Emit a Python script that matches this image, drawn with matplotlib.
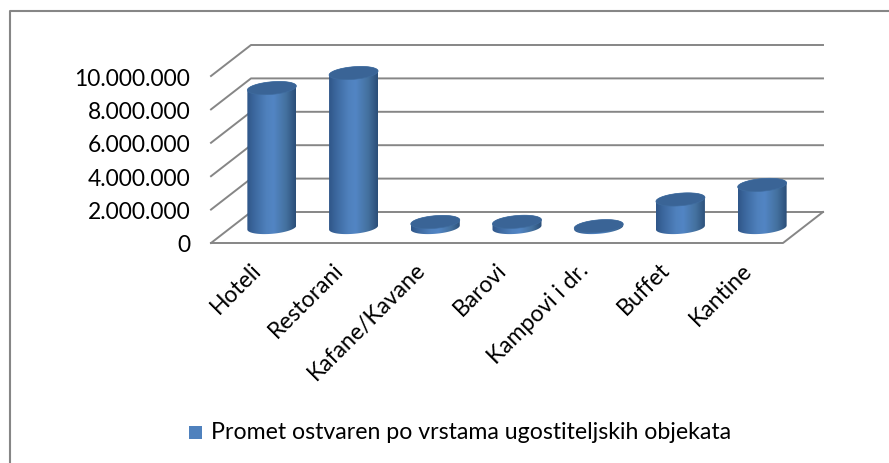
import numpy as np
import matplotlib
matplotlib.use('Agg')
import matplotlib.pyplot as plt
from matplotlib.patches import Polygon, Rectangle
from matplotlib.lines import Line2D
from matplotlib.colors import LinearSegmentedColormap
from matplotlib.transforms import ScaledTranslation

categories = ['Hoteli', 'Restorani', 'Kafane/Kavane', 'Barovi', 'Kampovi i dr.', 'Buffet', 'Kantine']
values = [8350000, 9250000, 330000, 340000, 80000, 1680000, 2550000]
yticks = [0, 2000000, 4000000, 6000000, 8000000, 10000000]
ytick_labels = ['0', '2.000.000', '4.000.000', '6.000.000', '8.000.000', '10.000.000']
legend_label = 'Promet ostvaren po vrstama ugostiteljskih objekata'

W, H = 889, 464
plt.rcParams['font.family'] = ['Lato', 'DejaVu Sans']

fig = plt.figure(figsize=(W / 100, H / 100), dpi=100)
# front plane of the fake 3d box, pixels 211-783 and 244-77
ax = fig.add_axes([211 / W, 1 - 244 / H, 572 / W, 167 / H])
ax.patch.set_visible(False)
for s in ax.spines.values():
    s.set_visible(False)

px_x = 7 / 572          # data units per pixel
px_y = 10000000 / 167
depth_x = 40 * px_x
depth_y = 31 * px_y

grid = '#868686'
for t in yticks:
    # wall lines, back wall and left side
    ax.plot([0, depth_x, 7 + depth_x], [t, t + depth_y, t + depth_y], color=grid, lw=1.4, clip_on=False, zorder=1)
# floor
ax.plot([0, 7, 7 + depth_x], [0, 0, depth_y], color=grid, lw=1.4, clip_on=False, zorder=1)

body_cmap = LinearSegmentedColormap.from_list('body', [
    (0, '#2f5688'), (0.12, '#3a659b'), (0.4, '#4f81bd'), (0.55, '#5285c4'),
    (0.8, '#44719f'), (1, '#2b4e78')])
gradient = np.linspace(0, 1, 128).reshape(1, -1)

t_low = np.linspace(np.pi, 2 * np.pi, 60)
t_up = np.linspace(0, np.pi, 60)
a, b, k = 24.5, 6.3, 2.0   # ellipse size in pixels

def ring(cx, base, t):
    return np.column_stack([cx + a * px_x * np.cos(t),
                            base + (b * np.sin(t) + k * np.cos(t)) * px_y])

for i, v in enumerate(values):
    cx = i + 0.5 + depth_x / 2
    base = depth_y / 2
    pts = np.vstack([ring(cx, base, t_low), ring(cx, base + v, t_up)])
    body = Polygon(pts, closed=True, fc='none', ec='none', clip_on=False)
    ax.add_patch(body)
    im = ax.imshow(gradient, cmap=body_cmap, aspect='auto', zorder=3,
                   extent=[cx - a * px_x, cx + a * px_x, base - 10 * px_y, base + v + 10 * px_y])
    # image must be able to leave the axes box, the tallest bar goes over it
    im.set_clip_box(fig.bbox)
    im.set_clip_path(body)
    top = Polygon(ring(cx, base + v, np.linspace(0, 2 * np.pi, 120)), closed=True,
                  fc='#3a6496', ec='#3f6c9f', lw=0.5, zorder=4, clip_on=False)
    ax.add_patch(top)

ax.set_xlim(0, 7)
ax.set_ylim(0, 10000000)
ax.set_yticks(yticks)
ax.set_yticklabels(ytick_labels, fontsize=16.4, color='black')
ax.set_xticks(np.arange(7) + 0.5)
ax.set_xticklabels(categories, fontsize=16.5, rotation=45, ha='right', rotation_mode='anchor')
ax.tick_params(axis='both', length=0)
ax.tick_params(axis='y', pad=15)
ax.tick_params(axis='x', pad=11)
shift = ScaledTranslation(-1 / 100, 0, fig.dpi_scale_trans)
for lab in ax.get_xticklabels():
    lab.set_transform(lab.get_transform() + shift)

# chart frame, only top and left are inside the image
fig.add_artist(Line2D([10 / W, 10 / W, 1], [0, 1 - 12 / H, 1 - 12 / H], transform=fig.transFigure,
                      color='#868686', lw=1.5))

# legend
fig.add_artist(Rectangle((189 / W, 1 - 440 / H), 13 / W, 13 / H, transform=fig.transFigure,
                         fc='#4f81bd', ec='none'))
fig.text(211 / W, 1 - 433 / H, legend_label, fontsize=16.7, va='center', ha='left')

fig.savefig('out.png', dpi=100)
